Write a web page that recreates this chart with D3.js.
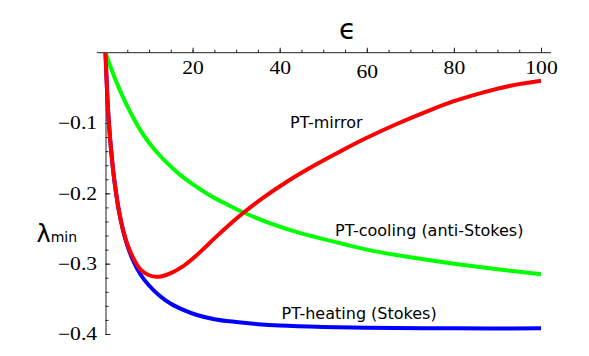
<!DOCTYPE html>
<html>
<head>
<meta charset="utf-8">
<title>lambda min vs epsilon</title>
<script src="https://d3js.org/d3.v7.min.js"></script>
<style>
  body { margin: 0; background: #fff; }
  .lbl { font-family: "DejaVu Sans", sans-serif; font-size: 16px; fill: #000; }
</style>
</head>
<body>
<div id="chart"></div>
<script>
// values
const heatEps = [0, 0.5, 1, 1.5, 2, 3, 4, 5, 6.3, 8, 10, 12.5, 15, 18, 21, 25, 30, 35, 40, 50, 60, 80, 100];
const heatLam = [0, -0.072, -0.118, -0.152, -0.180, -0.222, -0.252, -0.274, -0.295, -0.315, -0.331, -0.346, -0.357, -0.366, -0.373, -0.379, -0.383, -0.386, -0.388, -0.390, -0.391, -0.392, -0.392];

const coolEps = [0, 1, 2, 3, 4, 5, 6.5, 8, 10, 12, 14, 17, 20, 24, 28, 32, 38, 45, 52, 60, 70, 80, 90, 100];
const coolLam = [0, -0.0175, -0.034, -0.049, -0.063, -0.076, -0.094, -0.110, -0.128, -0.143, -0.156, -0.173, -0.187, -0.203, -0.216, -0.228, -0.243, -0.257, -0.268, -0.280, -0.291, -0.300, -0.308, -0.315];

const mirrEps = [0, 0.5, 1, 1.5, 2, 3, 4, 5, 6.3, 8, 10, 11.6, 13, 15, 17.5, 20, 22.5, 25, 28, 31.6, 36, 42, 48, 54, 60, 67, 74, 80, 87, 93, 100];
const mirrLam = [0, -0.072, -0.118, -0.152, -0.180, -0.222, -0.251, -0.272, -0.291, -0.308, -0.3165, -0.3186, -0.3178, -0.3135, -0.305, -0.293, -0.279, -0.264, -0.247, -0.228, -0.207, -0.182, -0.160, -0.140, -0.121, -0.101, -0.083, -0.069, -0.056, -0.047, -0.040];

const xMajor = [20, 40, 60, 80, 100];
const xMinor = d3.range(5, 101, 5);
const yMajor = [-0.1, -0.2, -0.3, -0.4];
const yMinor = d3.range(-2, -21, -1).map(d => d / 50);

const width = 589, height = 356;

const svg = d3.select("#chart").append("svg")
    .attr("width", width)
    .attr("height", height);

const x = d3.scaleLinear().domain([0, 100]).range([105.5, 541]);
const y = d3.scaleLinear().domain([0, -0.4]).range([52.7, 334]);

// x axis on top, ticks pointing up, labels below the line
svg.append("line")
    .attr("x1", x(-2)).attr("x2", x(102.3))
    .attr("y1", y(0)).attr("y2", y(0))
    .attr("stroke", "#222").attr("stroke-width", 1);

const gxMinor = svg.append("g")
    .attr("transform", `translate(0,${y(0)})`)
    .call(d3.axisTop(x).tickValues(xMinor).tickSize(3).tickFormat(""));
gxMinor.select(".domain").remove();
gxMinor.selectAll(".tick line").attr("stroke", "#222");

const gx = svg.append("g")
    .attr("transform", `translate(0,${y(0)})`)
    .call(d3.axisTop(x).tickValues(xMajor).tickSize(5).tickFormat(d3.format("d")));
gx.select(".domain").remove();
gx.selectAll(".tick line").attr("stroke", "#222");
// the serif digits in the original are set wide, stretch them a bit
gx.selectAll(".tick text")
    .attr("y", 0)
    .attr("dy", 0)
    .attr("transform", d => `translate(0,${d === 60 ? 25 : 21}) scale(1.2,1)`);

// y axis, ticks pointing right
const gyMinor = svg.append("g")
    .attr("transform", `translate(${x(0)},0)`)
    .call(d3.axisLeft(y).tickValues(yMinor).tickSizeInner(-3).tickSizeOuter(0).tickFormat(""));
gyMinor.select(".domain").remove();
gyMinor.selectAll(".tick line").attr("stroke", "#222");

const gy = svg.append("g")
    .attr("transform", `translate(${x(0)},0)`)
    .call(d3.axisLeft(y).tickValues(yMajor).tickSizeInner(-5).tickSizeOuter(0).tickPadding(7).tickFormat(d3.format(".1f")));
gy.select(".domain").attr("stroke", "#222");
gy.selectAll(".tick line").attr("stroke", "#222");
gy.selectAll(".tick text").attr("transform", "scale(1.2,1)");

svg.selectAll(".tick text")
    .style("font-family", "'Liberation Serif', 'DejaVu Serif', serif")
    .style("font-size", "18px")
    .attr("fill", "#000");

const line = d3.line()
    .x(d => x(d[0]))
    .y(d => y(d[1]))
    .curve(d3.curveCatmullRom.alpha(0.5));

const series = [
  { eps: heatEps, lam: heatLam, color: "#0000ff" },
  { eps: coolEps, lam: coolLam, color: "#00ff00" },
  { eps: mirrEps, lam: mirrLam, color: "#ff0000" }
];

series.forEach(s => {
  svg.append("path")
      .datum(d3.zip(s.eps, s.lam))
      .attr("d", line)
      .attr("fill", "none")
      .attr("stroke", s.color)
      .attr("stroke-width", 4)
      .attr("stroke-linejoin", "round");
});

// curve labels
svg.append("text").attr("class", "lbl").attr("x", 290).attr("y", 128).text("PT-mirror");
svg.append("text").attr("class", "lbl").attr("x", 335).attr("y", 236).text("PT-cooling (anti-Stokes)");
svg.append("text").attr("class", "lbl").attr("x", 281.5).attr("y", 319).text("PT-heating (Stokes)");

// axis titles
svg.append("text")
    .attr("x", 347.5).attr("y", 39)
    .attr("text-anchor", "middle")
    .style("font-family", "DejaVu Sans, sans-serif")
    .style("font-size", "28px")
    .text("\u03f5");

const ylab = svg.append("text")
    .attr("x", 36.5).attr("y", 242)
    .style("font-family", "DejaVu Sans, sans-serif");
ylab.append("tspan").style("font-size", "24px").text("\u03bb");
ylab.append("tspan").style("font-size", "14px").text("min");
</script>
</body>
</html>
